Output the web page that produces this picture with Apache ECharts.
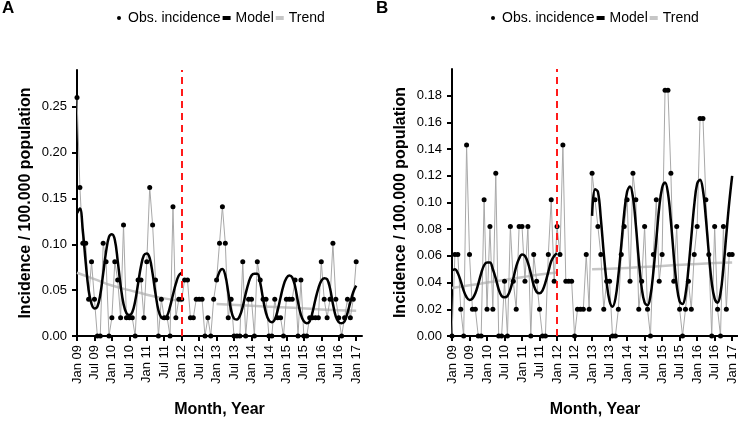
<!DOCTYPE html>
<html><head><meta charset="utf-8">
<script src="https://cdn.jsdelivr.net/npm/echarts@6/dist/echarts.min.js"></script>
<style>html,body{margin:0;padding:0;background:#fff}#c{width:738px;height:431px}</style>
</head><body><div id="c"></div>
<script>
// x tick labels (every 6 months, month index 0 = Jan 09)
const tickLabels = ['Jan 09','Jul 09','Jan 10','Jul 10','Jan 11','Jul 11','Jan 12','Jul 12','Jan 13','Jul 13','Jan 14','Jul 14','Jan 15','Jul 15','Jan 16','Jul 16','Jan 17'];
const xTickMonths = [0,6,12,18,24,30,36,42,48,54,60,66,72,78,84,90,96];
const yTicksA = [0,0.05,0.10,0.15,0.20,0.25];
const yTicksB = [0,0.02,0.04,0.06,0.08,0.10,0.12,0.14,0.16,0.18];
const interventionMonth = 36; // Jan 12

// Panel A observed incidence (monthly, Jan 09 .. Jan 17)
const obsA = [
 0.26,0.162,0.101,0.101,0.040,0.081,0.040,0,0,0.101,
 0.081,0,0.020,0.081,0.061,0.020,0.121,0.020,0.020,0.020,
 0,0.061,0.061,0.020,0.081,0.162,0.121,0.061,0,0.040,
 0.020,0.020,0,0.141,0.020,0.040,0.040,0.061,0.061,0.020,
 0.020,0.040,0.040,0.040,0,0.020,0,0.040,0.061,0.101,
 0.141,0.101,0.020,0.040,0,0,0,0.081,0,0.040,
 0.040,0,0.081,0.061,0.040,0.040,0,0,0.040,0.020,
 0.020,0,0.040,0.040,0.040,0.061,0,0.061,0,0,
 0.020,0.020,0.020,0.020,0.081,0.040,0.020,0.040,0.101,0.040,
 0.020,0,0.020,0.040,0.020,0.040,0.081];
// Panel A model (null = no model in transition year)
const modelA = [
 0.134,0.139,0.115,0.080,0.050,0.035,0.030,0.032,0.045,0.068,
 0.092,0.108,0.111,0.105,0.082,0.055,0.035,0.025,0.023,0.026,
 0.038,0.057,0.076,0.088,0.090,0.085,0.068,0.046,0.028,0.020,
 0.019,0.022,0.032,0.045,0.057,0.066,0.069,
 null,null,null,null,null,null,null,null,null,null,null,
 0.060,0.070,0.073,0.066,0.048,0.028,0.019,0.018,0.022,0.032,
 0.046,0.058,0.066,0.068,0.068,0.058,0.040,0.025,0.017,0.015,
 0.018,0.028,0.042,0.055,0.063,0.066,0.064,0.054,0.037,0.023,
 0.016,0.014,0.016,0.026,0.040,0.052,0.060,0.063,0.062,0.052,
 0.035,0.021,0.015,0.014,0.016,0.025,0.037,0.048,0.055];
// Panel A trend
const trendPreMonths = [0,6,12,18,24,30,36];
const trendPreA = [0.069,0.062,0.055,0.050,0.045,0.041,0.038];
const trendPostMonths = [48,60,72,84,96];
const trendPostA = [0.035,0.033,0.031,0.029,0.0275];

// Panel B observed incidence
const obsB = [
 0,0.061,0.061,0.020,0,0.143,0.061,0.020,0.020,0,
 0,0.102,0.020,0.082,0.020,0.122,0,0,0.041,0,
 0.082,0.041,0.020,0.082,0.082,0.041,0.082,0,0.061,0.041,
 0.020,0,0,0.061,0.102,0.041,0.082,0.061,0.143,0.041,
 0.041,0.041,0,0.020,0.020,0.020,0.061,0.020,0.122,0.102,
 0.082,0.061,0.020,0.041,0.041,0,0,0.020,0.061,0.082,
 0.102,0.041,0.122,0.102,0.020,0.041,0.082,0.020,0,0.061,
 0.102,0.041,0.061,0.184,0.184,0.122,0.041,0.082,0.020,0,
 0.020,0.041,0.020,0.061,0.082,0.163,0.163,0.102,0.061,0,
 0.082,0.020,0,0.082,0.020,0.061,0.061];
const modelB = [
 0.049,0.050,0.047,0.041,0.034,0.029,0.027,0.028,0.032,0.039,
 0.047,0.053,0.055,0.055,0.050,0.043,0.035,0.030,0.029,0.030,
 0.035,0.043,0.052,0.058,0.061,0.060,0.055,0.047,0.038,0.033,
 0.032,0.034,0.040,0.048,0.056,0.060,0.062,
 null,null,null,null,null,null,null,null,null,null,null,
 0.090,0.110,0.108,0.088,0.062,0.040,0.026,0.022,0.028,0.045,
 0.068,0.092,0.108,0.112,0.104,0.083,0.057,0.036,0.025,0.023,
 0.030,0.048,0.072,0.096,0.111,0.115,0.107,0.086,0.060,0.038,
 0.026,0.024,0.031,0.050,0.074,0.098,0.114,0.117,0.109,0.088,
 0.062,0.040,0.028,0.025,0.032,0.051,0.076,0.100,0.120];
const trendPreB = [0.036,0.038,0.040,0.042,0.044,0.046,0.0475];
const trendPostB = [0.050,0.051,0.0525,0.054,0.055];

const FONT = 'Liberation Sans, Arial, sans-serif';
const pairs = (arr) => arr.map((v, i) => [i, v]);
const zip = (ms, vs) => ms.map((m, i) => [m, vs[i]]);

function xAxis(gi) {
  return {
    gridIndex: gi, type: 'value', min: 0, max: 98,
    axisLine: { show: true, onZero: false, lineStyle: { color: '#000', width: 2 } },
    axisTick: { show: true, length: 5, customValues: xTickMonths, lineStyle: { color: '#000', width: 2 } },
    axisLabel: { customValues: xTickMonths, rotate: 90, margin: 9, fontSize: 13, color: '#000', fontFamily: FONT,
      formatter: (v) => tickLabels[xTickMonths.indexOf(v)] },
    splitLine: { show: false },
    name: 'Month, Year', nameLocation: 'middle', nameGap: 66,
    nameTextStyle: { fontSize: 16, fontWeight: 'bold', color: '#000', fontFamily: FONT }
  };
}
function yAxis(gi, max, ticks) {
  return {
    gridIndex: gi, type: 'value', min: 0, max: max,
    axisLine: { show: true, lineStyle: { color: '#000', width: 2 } },
    axisTick: { show: true, length: 5, customValues: ticks, lineStyle: { color: '#000', width: 2 } },
    axisLabel: { customValues: ticks, margin: 10, fontSize: 13, color: '#000', fontFamily: FONT,
      formatter: (v) => v.toFixed(2) },
    splitLine: { show: false },
    name: 'Incidence / 100.000 population', nameLocation: 'middle', nameGap: 43,
    nameTextStyle: { fontSize: 16, fontWeight: 'bold', color: '#000', fontFamily: FONT }
  };
}
function panelSeries(gi, obs, model, tPre, tPost) {
  return [
    { name: 'Obs. incidence', type: 'line', xAxisIndex: gi, yAxisIndex: gi, data: pairs(obs),
      symbol: 'circle', symbolSize: 5, showSymbol: true, z: 3,
      itemStyle: { color: '#000', borderWidth: 0 },
      lineStyle: { color: '#a8a8a8', width: 1 },
      markLine: { silent: true, symbol: ['none', 'none'], label: { show: false },
        lineStyle: { color: '#ff1a1a', type: [7, 5], width: 2 },
        emphasis: { disabled: true },
        data: [{ xAxis: interventionMonth }] } },
    { name: 'Model', type: 'line', xAxisIndex: gi, yAxisIndex: gi, data: pairs(model),
      smooth: 0.4, showSymbol: false, connectNulls: false, z: 4,
      itemStyle: { color: '#000' }, lineStyle: { color: '#000', width: 2.5 } },
    { name: 'Trend', type: 'line', xAxisIndex: gi, yAxisIndex: gi, data: zip(trendPreMonths, tPre),
      smooth: true, showSymbol: false, z: 2,
      itemStyle: { color: '#c6c6c6' }, lineStyle: { color: '#c6c6c6', width: 2.5 } },
    { name: 'Trend', type: 'line', xAxisIndex: gi, yAxisIndex: gi, data: zip(trendPostMonths, tPost),
      smooth: true, showSymbol: false, z: 2,
      itemStyle: { color: '#c6c6c6' }, lineStyle: { color: '#c6c6c6', width: 2.5 } }
  ];
}
function legend(left) {
  return {
    left: left, top: 11, orient: 'horizontal', itemGap: 2, itemWidth: 8, itemHeight: 4,
    selectedMode: false, padding: 0,
    textStyle: { fontSize: 14, color: '#000', fontFamily: FONT },
    itemStyle: { borderWidth: 0 },
    data: [
      { name: 'Obs. incidence', icon: 'circle', itemStyle: { color: '#000' } },
      { name: 'Model', icon: 'rect', itemStyle: { color: '#000' } },
      { name: 'Trend', icon: 'rect', itemStyle: { color: '#c6c6c6' } }
    ]
  };
}

const chart = echarts.init(document.getElementById('c'), null, { renderer: 'canvas' });
chart.setOption({
  animation: false,
  backgroundColor: '#fff',
  title: [
    { text: 'A', left: 2, top: 0, padding: 0, textStyle: { fontSize: 17, fontWeight: 'bold', color: '#000', fontFamily: FONT } },
    { text: 'B', left: 376, top: 0, padding: 0, textStyle: { fontSize: 17, fontWeight: 'bold', color: '#000', fontFamily: FONT } }
  ],
  legend: [legend(117), legend(491)],
  grid: [
    { left: 77, top: 70, width: 285, height: 266, containLabel: false, outerBoundsMode: 'none' },
    { left: 452, top: 69, width: 286, height: 267, containLabel: false, outerBoundsMode: 'none' }
  ],
  xAxis: [xAxis(0), xAxis(1)],
  yAxis: [yAxis(0, 0.29, yTicksA), yAxis(1, 0.2, yTicksB)],
  series: [
    ...panelSeries(0, obsA, modelA, trendPreA, trendPostA),
    ...panelSeries(1, obsB, modelB, trendPreB, trendPostB)
  ]
});
</script></body></html>
